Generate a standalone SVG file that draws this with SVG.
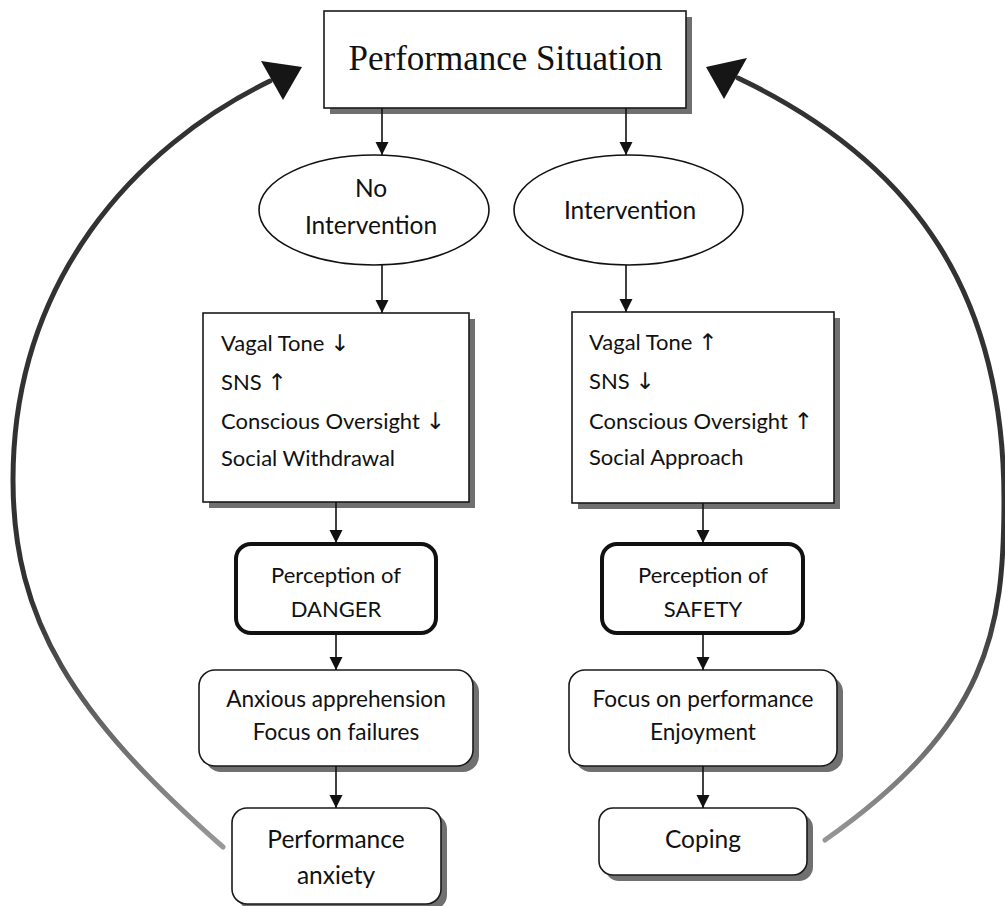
<svg xmlns="http://www.w3.org/2000/svg" width="1005" height="906" viewBox="0 0 1005 906">
<style>
.box{fill:#fff;stroke:#1a1a1a;stroke-width:1.6}
.shadow{fill:#707070;stroke:none}
.thick{fill:#fff;stroke:#111;stroke-width:4}
.ell{fill:#fff;stroke:#111;stroke-width:1.6}
.t{font-family:Lato,"Open Sans",sans-serif;font-size:22px;fill:#111}
.big{font-size:24.5px}
.mid{font-size:22.6px}
.c{text-anchor:middle}
.ar{font-family:"DejaVu Sans",sans-serif;font-size:23px}
.title{font-family:"Liberation Serif","Times New Roman",serif;font-size:35px;fill:#111;text-anchor:middle}
.conn line{stroke:#111;stroke-width:1.6;marker-end:url(#ah)}
.loop{fill:none;stroke:url(#lg);stroke-width:5;stroke-linecap:round;filter:url(#bl)}
.loophead{fill:#151515;filter:url(#bl)}
</style>
<defs>
<marker id="ah" markerUnits="userSpaceOnUse" markerWidth="14" markerHeight="14" refX="13" refY="6.5" orient="auto">
<path d="M0,0 L13,6.5 L0,13 z" fill="#111"/>
</marker>
<linearGradient id="lg" gradientUnits="userSpaceOnUse" x1="0" y1="600" x2="0" y2="850">
<stop offset="0" stop-color="#333"/>
<stop offset="1" stop-color="#9a9a9a"/>
</linearGradient>
<filter id="bl" x="-10%" y="-10%" width="120%" height="120%">
<feGaussianBlur stdDeviation="0.7"/>
</filter>
</defs>

<g id="loops">
<path class="loop" d="M223,847 C73,715 13,620 13,480 C13,280 135,147 270,81"/>
<polygon class="loophead" points="302,67 261,61 283,100"/>
<path class="loop" d="M825,840 C988.6,725 1004,630 1004,500 C1004,300 920.6,165 738,78"/>
<polygon class="loophead" points="706,67 747,58 724,99"/>
</g>

<g id="node-situation">
<rect class="shadow" x="330" y="17" width="362" height="97"/>
<rect class="box" x="324" y="11" width="362" height="97"/>
<text class="title" x="505.5" y="70">Performance Situation</text>
</g>

<g id="node-no-intervention">
<ellipse class="ell" cx="374" cy="210" rx="115" ry="55"/>
<text class="t big c" x="371" y="197">No</text>
<text class="t big c" x="371" y="234">Intervention</text>
</g>

<g id="node-intervention">
<ellipse class="ell" cx="628.5" cy="210" rx="114.5" ry="55"/>
<text class="t big c" x="630" y="219">Intervention</text>
</g>

<g id="node-left-state">
<rect class="shadow" x="209" y="319" width="266" height="189"/>
<rect class="box" x="203" y="313" width="266" height="189"/>
<text class="t" x="221" y="351">Vagal Tone <tspan class="ar">↓</tspan></text>
<text class="t" x="221" y="390">SNS <tspan class="ar">↑</tspan></text>
<text class="t" x="221" y="429">Conscious Oversight <tspan class="ar">↓</tspan></text>
<text class="t" x="221" y="466">Social Withdrawal</text>
</g>

<g id="node-right-state">
<rect class="shadow" x="578" y="318" width="262" height="191"/>
<rect class="box" x="572" y="312" width="262" height="191"/>
<text class="t" x="589" y="350">Vagal Tone <tspan class="ar">↑</tspan></text>
<text class="t" x="589" y="389">SNS <tspan class="ar">↓</tspan></text>
<text class="t" x="589" y="429">Conscious Oversight <tspan class="ar">↑</tspan></text>
<text class="t" x="589" y="465">Social Approach</text>
</g>

<g id="node-danger">
<rect class="thick" x="236" y="544" width="200" height="89" rx="15"/>
<text class="t c" x="336" y="583">Perception of</text>
<text class="t c" x="336" y="617">DANGER</text>
</g>

<g id="node-safety">
<rect class="thick" x="602" y="544" width="201" height="89" rx="15"/>
<text class="t c" x="703" y="583">Perception of</text>
<text class="t c" x="703" y="617">SAFETY</text>
</g>

<g id="node-anxious">
<rect class="shadow" x="205" y="676" width="274" height="96" rx="16"/>
<rect class="box" x="199" y="670" width="274" height="96" rx="16"/>
<text class="t mid c" x="336" y="707">Anxious apprehension</text>
<text class="t mid c" x="336" y="740">Focus on failures</text>
</g>

<g id="node-focus">
<rect class="shadow" x="575" y="676" width="268" height="96" rx="16"/>
<rect class="box" x="569" y="670" width="268" height="96" rx="16"/>
<text class="t mid c" x="703" y="707">Focus on performance</text>
<text class="t mid c" x="703" y="740">Enjoyment</text>
</g>

<g id="node-anxiety">
<rect class="shadow" x="238" y="814" width="209" height="96" rx="15"/>
<rect class="box" x="232" y="808" width="209" height="96" rx="15"/>
<text class="t big c" x="336" y="848">Performance</text>
<text class="t big c" x="336" y="884">anxiety</text>
</g>

<g id="node-coping">
<rect class="shadow" x="605" y="814" width="208" height="67" rx="14"/>
<rect class="box" x="599" y="808" width="208" height="67" rx="14"/>
<text class="t big c" x="703" y="848">Coping</text>
</g>

<g id="connectors" class="conn">
<line x1="382" y1="108" x2="382" y2="155"/>
<line x1="626" y1="108" x2="626" y2="155"/>
<line x1="382" y1="265" x2="382" y2="313"/>
<line x1="626" y1="265" x2="626" y2="312"/>
<line x1="336" y1="502" x2="336" y2="543"/>
<line x1="703" y1="503" x2="703" y2="543"/>
<line x1="336" y1="633" x2="336" y2="670"/>
<line x1="703" y1="633" x2="703" y2="670"/>
<line x1="336" y1="766" x2="336" y2="808"/>
<line x1="703" y1="766" x2="703" y2="808"/>
</g>
</svg>
